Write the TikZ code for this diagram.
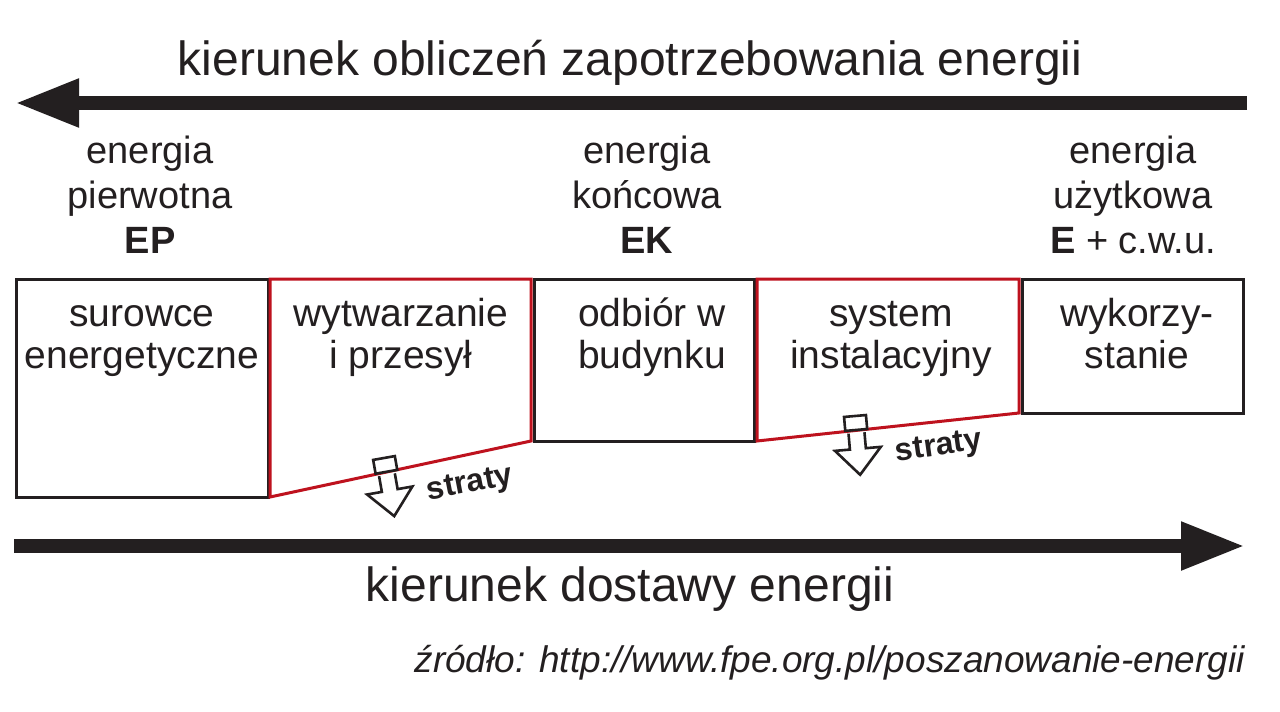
\documentclass[tikz,border=0pt]{standalone}
\usepackage{fontspec}
\setmainfont{Liberation Sans}
\usetikzlibrary{arrows.meta}
\definecolor{ink}{RGB}{35,31,32}
\definecolor{redline}{RGB}{190,18,30}
\tikzset{
  bigarrow/.style={draw=ink, line width=14pt, -{Triangle[length=64pt,width=45pt]}},
  blackbox/.style={draw=ink, line width=3pt},
  redbox/.style={draw=redline, line width=3pt, line join=miter},
  heading/.style={text=ink, font=\fontsize{48}{56}\selectfont, inner sep=0pt, anchor=base},
  lbl/.style={text=ink, font=\fontsize{38}{45}\selectfont, inner sep=0pt, anchor=base, align=center},
  boxtext/.style={text=ink, font=\fontsize{39}{42}\selectfont, inner sep=0pt, anchor=base, align=center},
  lossarrow/.style={draw=ink, line width=2.6pt, fill=white, line join=miter},
  losstext/.style={text=ink, font=\fontsize{32}{36}\selectfont\bfseries, inner sep=0pt},
  srctext/.style={text=ink, font=\fontsize{37}{42}\selectfont\itshape, inner sep=0pt, anchor=base east}
}
\begin{document}
\begin{tikzpicture}[x=1pt, y=-1pt]
\useasboundingbox (0,0) rectangle (1280,712);
\fill[white] (0,0) rectangle (1280,712);

% headings
\node[heading] (top) at (630,75) {kierunek obliczeń zapotrzebowania energii};
\node[heading] (bottom) at (630,601) {kierunek dostawy energii};

% big arrows
\coordinate (topR) at (1247,103);
\coordinate (topL) at (15,103);
\draw[bigarrow] (topR) -- (topL);
\coordinate (botL) at (14,546);
\coordinate (botR) at (1245,546);
\draw[bigarrow] (botL) -- (botR);

% energy labels (anchor = baseline of last line)
\node[lbl] (ep) at (150,253) {energia\\pierwotna\\\textbf{EP}};
\node[lbl] (ek) at (647,253) {energia\\końcowa\\\textbf{EK}};
\node[lbl] (eu) at (1133,253) {energia\\użytkowa\\\textbf{E} + c.w.u.};

% boxes
\draw[blackbox] (16,279) rectangle (268,497);
\draw[blackbox] (534,279) rectangle (754,441);
\draw[blackbox] (1022,279) rectangle (1243,413);
\draw[redbox] (270,279) -- (531,279) -- (531,441) -- (270,497) -- cycle;
\draw[redbox] (757,279) -- (1019,279) -- (1019,413) -- (757,441) -- cycle;

% box texts (anchor = baseline of last line)
\node[boxtext] (b1) at (142,368) {surowce\\energetyczne};
\node[boxtext] (b2) at (401,368) {wytwarzanie\\i przesył};
\node[boxtext] (b3) at (652,368) {odbiór w\\budynku};
\node[boxtext] (b4) at (891,368) {system\\instalacyjny};
\node[boxtext] (b5) at (1137,368) {wykorzy-\\stanie};

% loss arrows
\begin{scope}[shift={(384,458)}, rotate=10]
  \draw[lossarrow] (-11,0) rectangle (11,14);
  \draw[lossarrow] (-8,17) -- (-8,33) -- (-23,33) -- (0,59) -- (23,33) -- (8,33) -- (8,17);
\end{scope}
\begin{scope}[shift={(855,416)}, rotate=5]
  \draw[lossarrow] (-11,0) rectangle (11,14);
  \draw[lossarrow] (-8,17) -- (-8,33) -- (-23,33) -- (0,59) -- (23,33) -- (8,33) -- (8,17);
\end{scope}
\node[losstext, rotate=11] (s1) at (470,485) {straty};
\node[losstext, rotate=8] (s2) at (939,448) {straty};

% source
\node[srctext] (src) at (1245,672) {źródło: http://www.fpe.org.pl/poszanowanie-energii};
\end{tikzpicture}
\end{document}
